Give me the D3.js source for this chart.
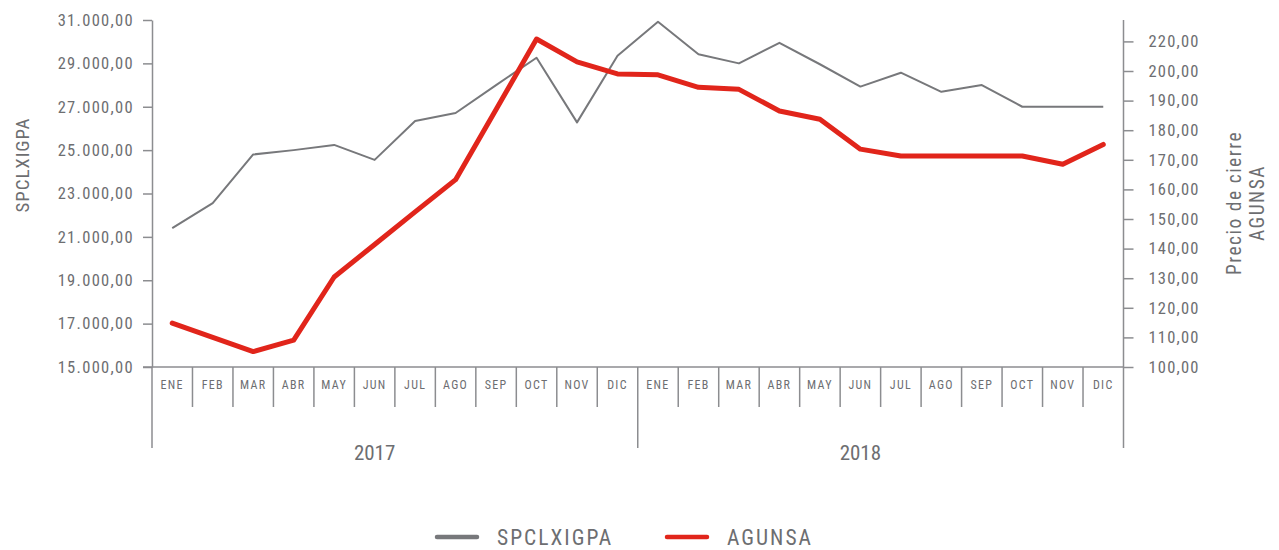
<!DOCTYPE html>
<meta charset="utf-8">
<script src="https://d3js.org/d3.v7.min.js"></script>
<style>
body { margin: 0; background: #fff; }
svg text { font-family: "Roboto Condensed", "Liberation Sans Narrow", "Roboto", sans-serif; fill: #6d6e71; }
</style>
<svg id="chart" width="1279" height="550"></svg>
<script>
// --- data ---
const months = ["ENE", "FEB", "MAR", "ABR", "MAY", "JUN", "JUL", "AGO", "SEP", "OCT", "NOV", "DIC"];
const years = ["2017", "2018"];
const spclxigpa = [21400, 22560, 24800, 25000, 25240, 24550, 26340, 26710, 28000, 29260, 26280, 29350,
                   30920, 29420, 29000, 29950, 28960, 27930, 28570, 27690, 28000, 27000, 27000, 27000];
const agunsa = [114.8, 110.0, 105.2, 109.1, 130.4, 141.4, 152.4, 163.3, 187.0, 210.8, 203.1, 199.0,
                198.7, 194.5, 193.8, 186.5, 183.7, 173.6, 171.3, 171.3, 171.3, 171.3, 168.5, 175.2];
const leftTicks = [15000, 17000, 19000, 21000, 23000, 25000, 27000, 29000, 31000];
const rightTicks = [100, 110, 120, 130, 140, 150, 160, 170, 180, 190, 200, 210];
const rightLabels = ["100,00", "110,00", "120,00", "130,00", "140,00", "150,00", "160,00",
                     "170,00", "180,00", "190,00", "200,00", "220,00"];
const seriesNames = ["SPCLXIGPA", "AGUNSA"];

const svg = d3.select("#chart");
const axisColor = "#8c8d90";
const grayLine = "#77787b", redLine = "#e1251b";

const plotL = 152, plotR = 1123.5, plotT = 20, plotB = 367;

const keys = [];
years.forEach(y => months.forEach(m => keys.push(y + "-" + m)));

const x = d3.scaleBand().domain(keys).range([plotL, plotR]);
const yL = d3.scaleLinear().domain([15000, 31000]).range([plotB, plotT]);
const yR = d3.scaleLinear().domain([100, 210]).range([plotB, plotB - 110 * 2.96]);

const es = d3.formatLocale({ decimal: ",", thousands: ".", grouping: [3], currency: ["", ""] });
const fmt = es.format(",.2f");

// left axis
const gL = svg.append("g").attr("transform", `translate(${plotL},0)`)
  .call(d3.axisLeft(yL).tickValues(leftTicks).tickFormat(fmt).tickSize(9).tickSizeOuter(0).tickPadding(9));
gL.select(".domain").attr("stroke", axisColor).attr("stroke-width", 1.5);
gL.selectAll(".tick line").attr("stroke", axisColor).attr("stroke-width", 1.5);
gL.selectAll(".tick text").attr("font-size", 16.5).attr("letter-spacing", 1.3).style("fill", "#6d6e71");

// right axis
const gR = svg.append("g").attr("transform", `translate(${plotR},0)`)
  .call(d3.axisRight(yR).tickValues(rightTicks).tickFormat((d, i) => rightLabels[i]).tickSize(10).tickSizeOuter(0).tickPadding(15));
gR.select(".domain").attr("stroke", axisColor).attr("stroke-width", 1.5)
  .attr("d", `M0,${plotB}V${plotT}`);
gR.selectAll(".tick line").attr("stroke", axisColor).attr("stroke-width", 1.5);
gR.selectAll(".tick text").attr("font-size", 16.5).attr("letter-spacing", 1.2).style("fill", "#6d6e71");

// bottom category axis
svg.append("line").attr("x1", plotL - 9).attr("x2", plotR).attr("y1", plotB).attr("y2", plotB)
  .attr("stroke", axisColor).attr("stroke-width", 1.5);

const bounds = keys.map(k => x(k)).concat([plotR]);
svg.append("g").selectAll("line").data(bounds).join("line")
  .attr("x1", d => d).attr("x2", d => d)
  .attr("y1", plotB)
  .attr("y2", (d, i) => i % 12 === 0 ? 448 : 407)
  .attr("stroke", axisColor).attr("stroke-width", 1.5);

svg.append("g").selectAll("text").data(keys).join("text")
  .attr("x", d => x(d) + x.bandwidth() / 2)
  .attr("y", 389)
  .attr("text-anchor", "middle")
  .attr("font-size", 12)
  .attr("letter-spacing", 1.3)
  .text(d => d.split("-")[1]);

svg.append("g").selectAll("text").data(years).join("text")
  .attr("x", d => x(d + "-JUN") + x.bandwidth() / 2)
  .attr("y", 460)
  .attr("text-anchor", "middle")
  .attr("font-size", 21)
  .text(d => d);

// axis titles
svg.append("text")
  .attr("transform", "translate(29,165) rotate(-90)")
  .attr("text-anchor", "middle")
  .attr("font-size", 19)
  .attr("letter-spacing", 0.9)
  .text("SPCLXIGPA");

const rt = svg.append("text")
  .attr("transform", "translate(1241,203) rotate(-90)")
  .attr("text-anchor", "middle")
  .attr("font-size", 19.5)
  .attr("letter-spacing", 1.5);
rt.append("tspan").attr("x", 0).attr("dy", 0).text("Precio de cierre");
rt.append("tspan").attr("x", 0).attr("dy", 23).text("AGUNSA");

// lines
const lineL = d3.line().x((d, i) => x(keys[i]) + x.bandwidth() / 2).y(d => yL(d));
const lineR = d3.line().x((d, i) => x(keys[i]) + x.bandwidth() / 2).y(d => yR(d));

svg.append("path").datum(spclxigpa)
  .attr("d", lineL).attr("fill", "none")
  .attr("stroke", grayLine).attr("stroke-width", 2).attr("stroke-linejoin", "round");

svg.append("path").datum(agunsa)
  .attr("d", lineR).attr("fill", "none")
  .attr("stroke", redLine).attr("stroke-width", 5).attr("stroke-linejoin", "round").attr("stroke-linecap", "round");

// legend
const legend = svg.append("g");
const legItems = [
  { name: seriesNames[0], color: grayLine, x: 437 },
  { name: seriesNames[1], color: redLine, x: 667 }
];
legItems.forEach(d => {
  legend.append("line").attr("x1", d.x).attr("x2", d.x + 40).attr("y1", 537).attr("y2", 537)
    .attr("stroke", d.color).attr("stroke-width", 4.5).attr("stroke-linecap", "round");
  legend.append("text").attr("x", d.x + 60).attr("y", 545)
    .attr("font-size", 21.5).attr("letter-spacing", 2).text(d.name);
});
</script>
